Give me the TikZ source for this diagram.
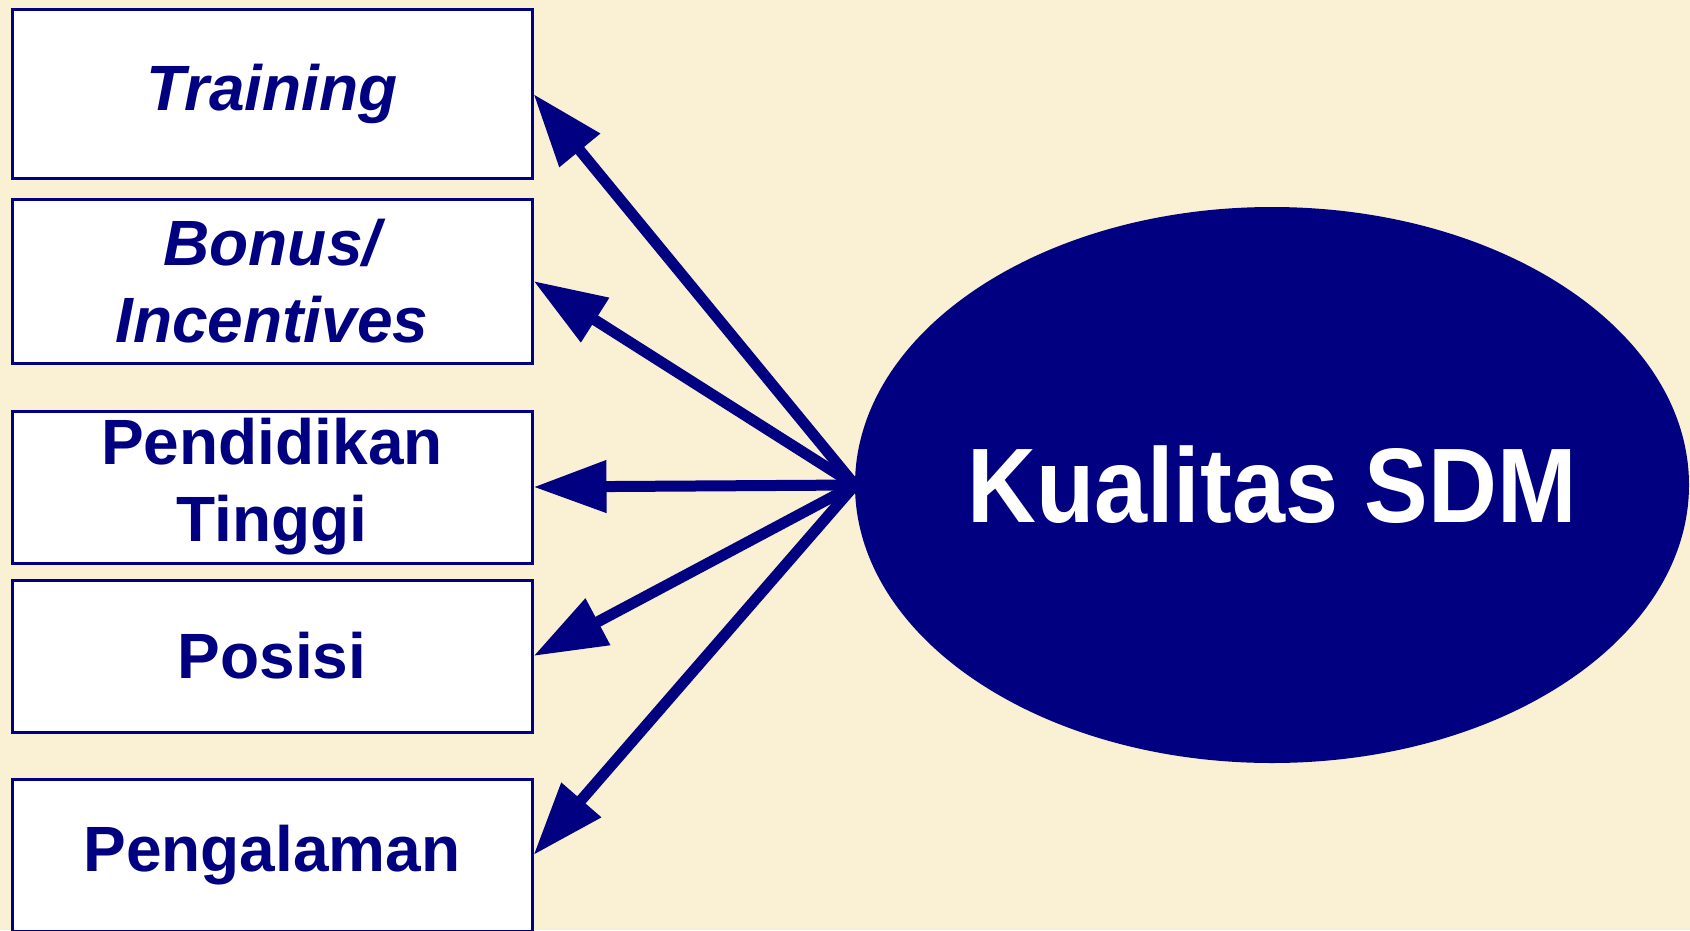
\documentclass[tikz,border=0pt]{standalone}
\usepackage{fontspec}
\setmainfont{Liberation Sans}
\usetikzlibrary{arrows.meta,shapes.geometric}
\definecolor{sdmnavy}{RGB}{0,0,128}
\definecolor{paper}{RGB}{250,241,213}

\begin{document}
\begin{tikzpicture}[x=1pt,y=-1pt,>={Triangle[length=73pt,width=50pt]},
  factor/.style={draw=sdmnavy,line width=3pt,fill=white,text=sdmnavy,
    minimum width=520pt,align=center,
    font=\fontsize{64}{77}\selectfont\bfseries},
  link/.style={->,line width=11pt,sdmnavy}]
  \fill[paper] (0,0) rectangle (1690,930); % background
  \useasboundingbox (0,0) rectangle (1690,930);
  \node[factor,minimum height=169pt] (T) at (272,94) {\itshape Training};
  \node[factor,minimum height=164pt] (B) at (272,281) {\itshape Bonus/\\\itshape Incentives};
  \node[factor,minimum height=152pt] (P) at (272,487) {Pendidikan\\Tinggi};
  \node[factor,minimum height=152pt] (O) at (272,656) {Posisi};
  \node[factor,minimum height=152pt] (G) at (272,855) {Pengalaman};
  \node[ellipse,fill=sdmnavy,inner sep=0pt,minimum width=834pt,minimum height=556pt] (K) at (1272,485) {};
  \node[text=white,font=\fontsize{106}{120}\selectfont\bfseries] (KL) at (K.center)
    {\scalebox{0.9}[1]{Kualitas SDM}};
  \draw[link] (K.west) -- (T.east);
  \draw[link] (K.west) -- (B.east);
  \draw[link] (K.west) -- (P.east);
  \draw[link] (K.west) -- (O.east);
  \draw[link] (K.west) -- (G.east);
\end{tikzpicture}
\end{document}
